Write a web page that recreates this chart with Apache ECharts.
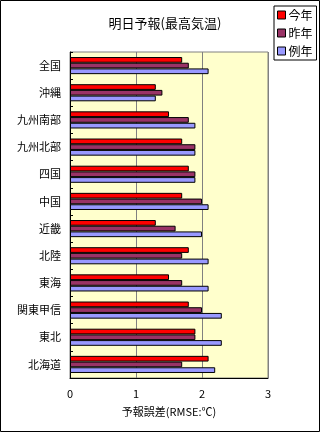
<!DOCTYPE html>
<html><head><meta charset="utf-8">
<script src="https://cdn.jsdelivr.net/npm/echarts@6/dist/echarts.min.js"></script>
<style>html,body{margin:0;padding:0;background:#fff}#c{width:320px;height:432px}</style>
</head><body><div id="c"></div>
<script>
const categories = ['全国','沖縄','九州南部','九州北部','四国','中国','近畿','北陸','東海','関東甲信','東北','北海道'];
const thisYear = [1.7,1.3,1.5,1.7,1.8,1.7,1.3,1.8,1.5,1.8,1.9,2.1];
const lastYear = [1.8,1.4,1.8,1.9,1.9,2.0,1.6,1.7,1.7,2.0,1.9,1.7];
const normalYear = [2.1,1.3,1.9,1.9,1.9,2.1,2.0,2.1,2.1,2.3,2.3,2.2];
const seriesNames = ['今年','昨年','例年'];
const xTicks = [0,1,2,3];

const font = '"Noto Sans CJK JP", sans-serif';
const chart = echarts.init(document.getElementById('c'));
const mk = (name, data, color) => ({
  name, type: 'bar', data,
  itemStyle: {color, borderColor: '#000', borderWidth: 1},
  barGap: '0%', barCategoryGap: '37%', animation: false
});
chart.setOption({
  animation: false,
  textStyle: {fontFamily: font},
  title: {text: '明日予報(最高気温)', left: 160, textAlign: 'center', top: 12,
    textStyle: {fontSize: 13, fontWeight: 'normal', color: '#000', fontFamily: font}},
  legend: {
    orient: 'vertical', left: 274, top: 6, data: seriesNames,
    itemWidth: 8, itemHeight: 8, itemGap: 6, padding: [3,4,3,3],
    borderColor: '#000', borderWidth: 1,
    icon: 'rect',
    itemStyle: {borderColor: '#000', borderWidth: 1},
    textStyle: {fontSize: 12, color: '#000', fontFamily: font, padding: [0,0,0,-2]}
  },
  grid: {left: 70, right: 52, top: 52, bottom: 54, show: true,
    backgroundColor: '#FFFFCC', borderColor: '#808080', borderWidth: 1},
  xAxis: {
    type: 'value', min: xTicks[0], max: xTicks[xTicks.length-1], interval: 1,
    axisLine: {show: true, lineStyle: {color: '#000'}},
    axisTick: {show: false},
    splitLine: {show: true, lineStyle: {color: '#808080'}},
    axisLabel: {fontSize: 11, color: '#000', margin: 10, fontFamily: font},
    name: '予報誤差(RMSE:℃)', nameLocation: 'middle', nameGap: 28,
    nameTextStyle: {fontSize: 11, color: '#000', fontFamily: font}
  },
  yAxis: {
    type: 'category', data: categories, inverse: true,
    axisLine: {show: true, lineStyle: {color: '#000'}},
    axisTick: {show: true, inside: true, length: 3, lineStyle: {color: '#000'}},
    axisLabel: {fontSize: 11, color: '#000', margin: 9, fontFamily: font}
  },
  series: [mk(seriesNames[0], thisYear, '#FF0000'), mk(seriesNames[1], lastYear, '#993366'), mk(seriesNames[2], normalYear, '#9999FF')],
  graphic: [{type: 'rect', shape: {x: 0.5, y: 0.5, width: 319, height: 431},
    style: {fill: 'none', stroke: '#000', lineWidth: 1}, silent: true}]
});
</script></body></html>
